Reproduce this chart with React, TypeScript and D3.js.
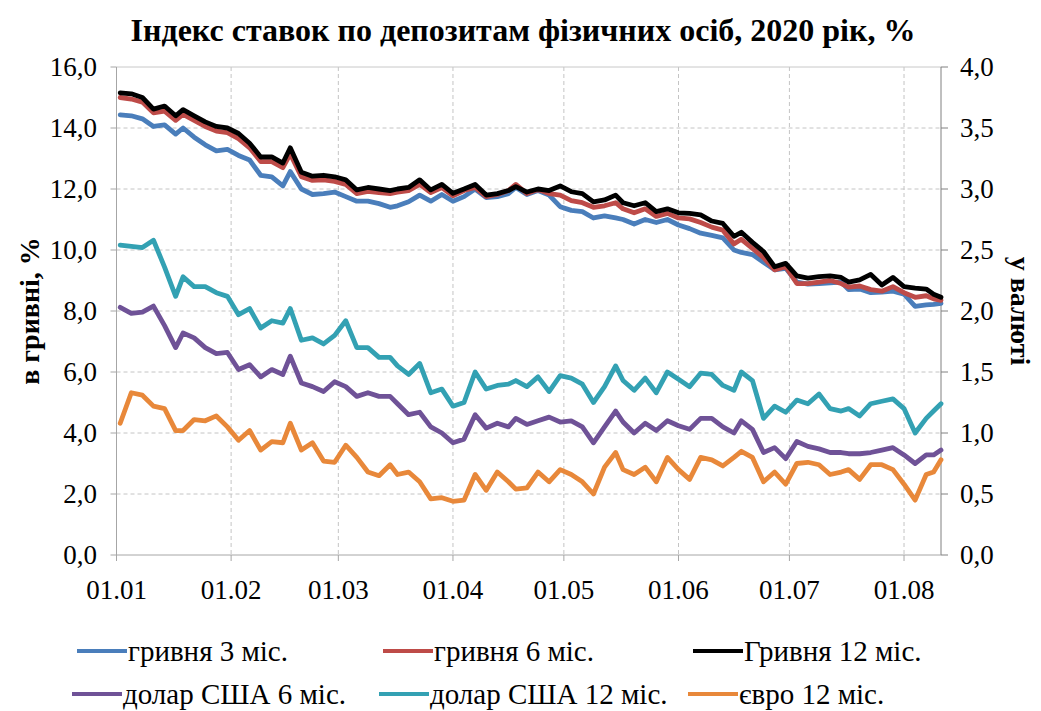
import React, { useEffect, useRef } from 'react';
import * as d3 from 'd3';

// sample dates (2020, MM-DD)
const dates = [
  '01-02', '01-05', '01-08', '01-11', '01-14', '01-17', '01-19', '01-22', '01-25', '01-28',
  '01-31', '02-03', '02-06', '02-09', '02-12', '02-15', '02-17', '02-20', '02-23', '02-26',
  '02-29', '03-03', '03-06', '03-09', '03-12', '03-15', '03-17', '03-20', '03-23', '03-26',
  '03-29', '04-01', '04-04', '04-07', '04-10', '04-13', '04-16', '04-18', '04-21', '04-24',
  '04-27', '04-30', '05-03', '05-06', '05-09', '05-12', '05-15', '05-17', '05-20', '05-23',
  '05-26', '05-29', '06-01', '06-04', '06-07', '06-10', '06-13', '06-16', '06-18', '06-21',
  '06-24', '06-27', '06-30', '07-03', '07-06', '07-09', '07-12', '07-15', '07-17', '07-20',
  '07-23', '07-26', '07-29', '08-01', '08-04', '08-07', '08-09', '08-11',
];

// left axis, %
const uah3 = [
  14.43, 14.4, 14.3, 14.05, 14.1, 13.8, 14.0, 13.7, 13.45, 13.25,
  13.3, 13.1, 12.95, 12.45, 12.4, 12.1, 12.57, 12.0, 11.82, 11.85,
  11.9, 11.75, 11.6, 11.6, 11.52, 11.4, 11.45, 11.58, 11.8, 11.6,
  11.82, 11.6, 11.75, 12.0, 11.72, 11.75, 11.85, 12.05, 11.82, 11.95,
  11.8, 11.42, 11.3, 11.26, 11.05, 11.12, 11.05, 11.0, 10.85, 11.0,
  10.9, 11.0, 10.82, 10.7, 10.55, 10.48, 10.4, 10.0, 9.92, 9.85,
  9.6, 9.35, 9.4, 8.95, 8.88, 8.9, 8.92, 8.95, 8.7, 8.72,
  8.6, 8.62, 8.65, 8.55, 8.15, 8.2, 8.22, 8.25,
];
const uah6 = [
  15.0, 14.95, 14.85, 14.5, 14.55, 14.25, 14.45, 14.25, 14.05, 13.9,
  13.85, 13.65, 13.35, 12.9, 12.9, 12.7, 13.15, 12.4, 12.28, 12.3,
  12.25, 12.15, 11.85, 11.92, 11.88, 11.85, 11.9, 11.95, 12.15, 11.88,
  12.05, 11.78, 11.95, 12.05, 11.75, 11.82, 11.95, 12.15, 11.85, 11.98,
  11.85, 11.8, 11.62, 11.55, 11.4, 11.45, 11.55, 11.35, 11.22, 11.35,
  11.1, 11.2, 11.05, 11.02, 10.9, 10.75, 10.65, 10.2, 10.35, 10.05,
  9.75, 9.35, 9.45, 8.9, 8.9, 8.95, 9.0, 8.9, 8.78, 8.82,
  8.7, 8.65, 8.8, 8.6, 8.45, 8.5, 8.4, 8.35,
];
const uah12 = [
  15.15, 15.12, 15.0, 14.62, 14.72, 14.4, 14.6, 14.4, 14.2, 14.05,
  14.0, 13.82, 13.5, 13.05, 13.05, 12.85, 13.35, 12.55, 12.42, 12.45,
  12.4, 12.3, 11.97, 12.05, 12.0, 11.95, 12.0, 12.05, 12.3, 11.97,
  12.15, 11.86, 12.0, 12.15, 11.8, 11.85, 11.95, 12.08, 11.9, 12.0,
  11.95, 12.1, 11.91, 11.85, 11.58, 11.64, 11.8, 11.55, 11.45, 11.55,
  11.26, 11.35, 11.22, 11.2, 11.15, 10.95, 10.87, 10.45, 10.58, 10.25,
  9.95, 9.45, 9.56, 9.15, 9.08, 9.13, 9.15, 9.1, 8.95, 9.02,
  9.2, 8.85, 9.1, 8.8, 8.75, 8.72, 8.55, 8.45,
];

// right axis, %
const usd6 = [
  2.03, 1.98, 1.99, 2.04, 1.88, 1.7, 1.82, 1.78, 1.7, 1.65,
  1.66, 1.52, 1.56, 1.46, 1.52, 1.48, 1.63, 1.41, 1.38, 1.34,
  1.42, 1.38, 1.3, 1.33, 1.3, 1.3, 1.24, 1.15, 1.17, 1.05,
  1.0, 0.92, 0.95, 1.15, 1.04, 1.08, 1.05, 1.12, 1.07, 1.1,
  1.13, 1.09, 1.1, 1.05, 0.92, 1.05, 1.18, 1.09, 1.0, 1.08,
  1.02, 1.1, 1.06, 1.03, 1.12, 1.12, 1.05, 1.0, 1.1, 1.03,
  0.84, 0.88, 0.79, 0.93, 0.89, 0.87, 0.84, 0.84, 0.83, 0.83,
  0.84, 0.86, 0.88, 0.82, 0.75, 0.82, 0.82, 0.86,
];
const usd12 = [
  2.54, 2.53, 2.52, 2.58, 2.36, 2.12, 2.28, 2.2, 2.2, 2.15,
  2.12, 1.97, 2.02, 1.86, 1.92, 1.9, 2.02, 1.76, 1.78, 1.73,
  1.8, 1.92, 1.7, 1.7, 1.62, 1.62, 1.55, 1.48, 1.57, 1.33,
  1.36, 1.22, 1.25, 1.5, 1.36, 1.39, 1.4, 1.43, 1.38, 1.46,
  1.34, 1.47, 1.45, 1.4, 1.25, 1.38, 1.55, 1.43, 1.35, 1.45,
  1.33, 1.5, 1.44, 1.38, 1.49, 1.48, 1.39, 1.35, 1.5, 1.43,
  1.12, 1.22, 1.17, 1.27, 1.24, 1.32, 1.2, 1.18, 1.2, 1.14,
  1.24, 1.26, 1.28, 1.2, 1.0, 1.12, 1.18, 1.24,
];
const eur12 = [
  1.08, 1.33, 1.31, 1.22, 1.2, 1.02, 1.02, 1.11, 1.1, 1.14,
  1.05, 0.94, 1.02, 0.86, 0.93, 0.92, 1.08, 0.86, 0.92, 0.77,
  0.76, 0.9, 0.8, 0.68, 0.65, 0.74, 0.66, 0.68, 0.6, 0.46,
  0.47, 0.44, 0.45, 0.66, 0.53, 0.68, 0.6, 0.54, 0.55, 0.68,
  0.6, 0.7, 0.66, 0.6, 0.5, 0.72, 0.84, 0.7, 0.66, 0.72,
  0.6, 0.8, 0.7, 0.62, 0.8, 0.78, 0.73, 0.8, 0.85, 0.8,
  0.6, 0.68, 0.58, 0.75, 0.76, 0.74, 0.66, 0.68, 0.7, 0.62,
  0.74, 0.74, 0.7, 0.58, 0.45, 0.66, 0.68, 0.78,
];

const leftTicks = [0, 2, 4, 6, 8, 10, 12, 14, 16];
const rightTicks = [0, 0.5, 1, 1.5, 2, 2.5, 3, 3.5, 4];
const monthTicks = ['01-01', '02-01', '03-01', '04-01', '05-01', '06-01', '07-01', '08-01'];

const series = [
  { name: 'гривня 3 міс.', values: uah3, axis: 'left', color: '#4A7EBB' },
  { name: 'гривня 6 міс.', values: uah6, axis: 'left', color: '#BE4B48' },
  { name: 'Гривня 12 міс.', values: uah12, axis: 'left', color: '#000000' },
  { name: 'долар США 6 міс.', values: usd6, axis: 'right', color: '#6F5297' },
  { name: 'долар США 12 міс.', values: usd12, axis: 'right', color: '#33A1B3' },
  { name: 'євро 12 міс.', values: eur12, axis: 'right', color: '#E8883A' },
];

const FONT = 'Liberation Serif, Times New Roman, DejaVu Serif, serif';

const parse = (s: string) => new Date(Date.UTC(2020, +s.slice(0, 2) - 1, +s.slice(3)));
const comma = (v: number) => v.toFixed(1).replace('.', ',');

const App: React.FC = () => {
  const svgRef = useRef<SVGSVGElement>(null);

  useEffect(() => {
    if (!svgRef.current) return;
    const svg = d3.select(svgRef.current);
    svg.selectAll('*').remove();

    const left = 116.5, right = 941, top = 67, bottom = 555;

    const x = d3.scaleUtc().domain([parse('01-01'), parse('08-11')]).range([left, right]);
    const yL = d3.scaleLinear().domain([0, 16]).range([bottom, top]);
    const yR = d3.scaleLinear().domain([0, 4]).range([bottom, top]);

    svg.append('rect').attr('width', 1041).attr('height', 711).attr('fill', '#fff');

    // grid
    svg.append('g').selectAll('line').data(leftTicks.slice(1, -1)).enter().append('line')
      .attr('x1', left).attr('x2', right).attr('y1', d => yL(d)).attr('y2', d => yL(d))
      .attr('stroke', '#c4c4c4').attr('stroke-dasharray', '4,3');
    svg.append('g').selectAll('line').data(monthTicks.slice(1)).enter().append('line')
      .attr('x1', d => x(parse(d))).attr('x2', d => x(parse(d))).attr('y1', top).attr('y2', bottom)
      .attr('stroke', '#c4c4c4').attr('stroke-dasharray', '4,3');

    // frame
    svg.append('line').attr('x1', left).attr('x2', right).attr('y1', top).attr('y2', top).attr('stroke', '#c8c8c8');
    svg.append('line').attr('x1', left).attr('x2', left).attr('y1', top).attr('y2', bottom).attr('stroke', '#a6a6a6');
    svg.append('line').attr('x1', right).attr('x2', right).attr('y1', top).attr('y2', bottom).attr('stroke', '#808080');
    svg.append('line').attr('x1', left).attr('x2', right).attr('y1', bottom).attr('y2', bottom).attr('stroke', '#a6a6a6');

    // ticks
    svg.append('g').selectAll('line').data(leftTicks).enter().append('line')
      .attr('x1', left - 6).attr('x2', left).attr('y1', d => yL(d)).attr('y2', d => yL(d)).attr('stroke', '#a6a6a6');
    svg.append('g').selectAll('line').data(rightTicks).enter().append('line')
      .attr('x1', right).attr('x2', right + 7).attr('y1', d => yR(d)).attr('y2', d => yR(d)).attr('stroke', '#808080');
    svg.append('g').selectAll('line').data(monthTicks).enter().append('line')
      .attr('x1', d => x(parse(d))).attr('x2', d => x(parse(d))).attr('y1', bottom).attr('y2', bottom + 6).attr('stroke', '#a6a6a6');

    // tick labels
    svg.append('g').selectAll('text').data(leftTicks).enter().append('text')
      .attr('x', 97).attr('y', d => yL(d)).attr('dy', '0.35em').attr('text-anchor', 'end')
      .style('font-family', FONT).attr('font-size', 27).attr('fill', '#000').text(d => comma(d));
    svg.append('g').selectAll('text').data(rightTicks).enter().append('text')
      .attr('x', 960).attr('y', d => yR(d)).attr('dy', '0.35em').attr('text-anchor', 'start')
      .style('font-family', FONT).attr('font-size', 27).attr('fill', '#000').text(d => comma(d));
    svg.append('g').selectAll('text').data(monthTicks).enter().append('text')
      .attr('x', d => x(parse(d))).attr('y', 590).attr('dy', '0.35em').attr('text-anchor', 'middle')
      .style('font-family', FONT).attr('font-size', 27).attr('fill', '#000')
      .text(d => `${d.slice(3)}.${d.slice(0, 2)}`);

    // series
    series.forEach(s => {
      const yS = s.axis === 'left' ? yL : yR;
      const line = d3.line<number>()
        .x((_, i) => x(parse(dates[i])))
        .y(v => yS(v));
      svg.append('path').datum(s.values).attr('d', line)
        .attr('fill', 'none').attr('stroke', s.color).attr('stroke-width', 4.8)
        .attr('stroke-linejoin', 'round').attr('stroke-linecap', 'round');
    });

    // title + axis titles
    svg.append('text').attr('x', 523).attr('y', 41).attr('text-anchor', 'middle')
      .style('font-family', FONT).attr('font-size', 32).attr('font-weight', 'bold')
      .text('Індекс ставок по депозитам фізичних осіб, 2020 рік, %');
    svg.append('text').attr('transform', 'translate(39,311) rotate(-90)').attr('text-anchor', 'middle')
      .style('font-family', FONT).attr('font-size', 28).attr('font-weight', 'bold').text('в гривні, %');
    svg.append('text').attr('transform', 'translate(1011,311) rotate(90)').attr('text-anchor', 'middle')
      .style('font-family', FONT).attr('font-size', 28).attr('font-weight', 'bold').text('у валюті');

    // legend
    const legendPos = [
      { x: 77, y: 651 }, { x: 383, y: 651 }, { x: 693, y: 651 },
      { x: 72, y: 694 }, { x: 379, y: 694 }, { x: 688, y: 694 },
    ];
    series.forEach((s, i) => {
      const p = legendPos[i];
      svg.append('line').attr('x1', p.x).attr('x2', p.x + 50).attr('y1', p.y).attr('y2', p.y)
        .attr('stroke', s.color).attr('stroke-width', 4);
      svg.append('text').attr('x', p.x + 51).attr('y', p.y).attr('dy', '0.35em')
        .style('font-family', FONT).attr('font-size', 29).text(s.name);
    });
  }, []);

  return (
    <svg ref={svgRef} width={1041} height={711}
      style={{ position: 'absolute', left: 0, top: 0, display: 'block', fontFamily: FONT }} />
  );
};

export default App;
